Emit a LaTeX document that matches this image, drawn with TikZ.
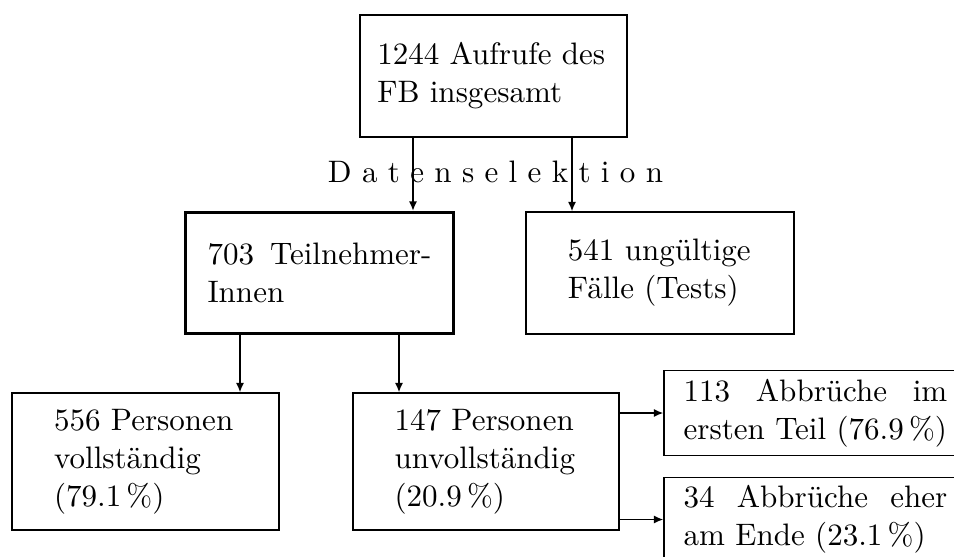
\documentclass[tikz,border=0pt]{standalone}
\usetikzlibrary{arrows.meta}
\newlength\px
\setlength\px{0.35273pt}
\begin{document}
\begin{tikzpicture}[x=\px,y=-\px,
  every node/.style={font=\fontsize{10.95}{13.4}\selectfont},
  flowbox/.style={draw,line width=0.5pt,rectangle,inner sep=0pt,align=left},
  thickbox/.style={flowbox,line width=1.2pt},
  arr/.style={line width=0.5pt,-{Latex[length=3.3pt,width=2.8pt]}}]
\useasboundingbox (0,0) rectangle (954,556);
\node[flowbox,minimum width={267*\px},minimum height={122*\px},text width=82pt] (a) at (493.5,76)
  {1244 Aufrufe des\\FB insgesamt};
\node[thickbox,minimum width={268*\px},minimum height={121*\px},text width=79pt] (b) at (319.5,273)
  {703\hfill Teilnehmer-\\Innen};
\node[flowbox,minimum width={268*\px},minimum height={122*\px},text width=65pt] (c) at (660,273)
  {541 ungültige\\Fälle (Tests)};
\node[flowbox,minimum width={267*\px},minimum height={137*\px},text width=64.5pt] (d) at (145.5,461.5)
  {556 Personen\\vollständig\\(79.1\,\%)};
\node[flowbox,minimum width={266*\px},minimum height={137*\px},text width=64.5pt] (e) at (486,461.5)
  {147 Personen\\unvollständig\\(20.9\,\%)};
\node[flowbox,minimum width={303*\px},minimum height={84.5*\px},text width=93pt] (f) at (815.5,413)
  {113\hfill Abbrüche\hfill im\\ersten Teil (76.9\,\%)};
\node[flowbox,minimum width={303*\px},minimum height={84.5*\px},text width=93pt] (g) at (815.5,519.5)
  {34\hfill Abbrüche\hfill eher\\am Ende (23.1\,\%)};
\node[anchor=base,inner sep=0pt] (sel) at (495.5,182) {D a t e n s e l e k t i o n};
\coordinate (x1) at (413,0);
\coordinate (x2) at (572,0);
\coordinate (x3) at (240,0);
\coordinate (x4) at (399,0);
\draw[arr] (x1 |- a.south) -- (x1 |- b.north);
\draw[arr] (x2 |- a.south) -- (x2 |- c.north);
\draw[arr] (x3 |- b.south) -- (x3 |- d.north);
\draw[arr] (x4 |- b.south) -- (x4 |- e.north);
\draw[arr] (e.east |- f.west) -- (f.west);
\draw[arr] (e.east |- g.west) -- (g.west);
\end{tikzpicture}
\end{document}
